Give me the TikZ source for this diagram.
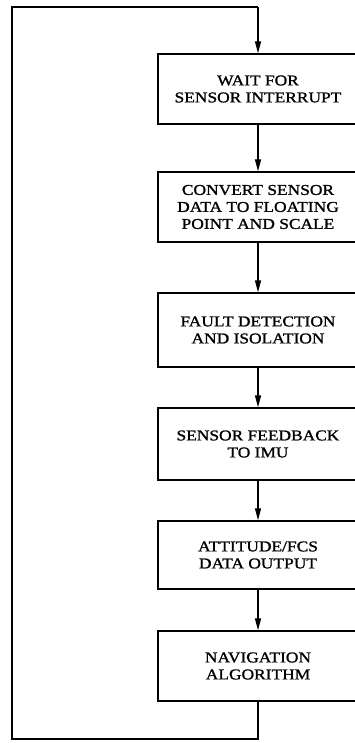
\documentclass[tikz,border=0pt]{standalone}
\usepackage{fontspec}
\setmainfont[FakeStretch=1.16,FakeBold=1.2]{Liberation Serif}
\usetikzlibrary{arrows.meta}
\begin{document}
\begin{tikzpicture}[x=1pt,y=-1pt,
  stepbox/.style={draw,line width=1.4pt,minimum width=200pt,align=center,inner sep=0pt,font=\fontsize{15}{17}\selectfont},
  flow/.style={line width=1.4pt,-{Triangle[length=12pt,width=6pt]}},
  loopline/.style={line width=1.4pt}]
\useasboundingbox (0,0) rectangle (355,743);
\clip (0,0) rectangle (355,743);
\node[stepbox,minimum height=70pt] (b1) at (258,89) {WAIT FOR\\SENSOR INTERRUPT};
\node[stepbox,minimum height=70pt] (b2) at (258,207) {CONVERT SENSOR\\DATA TO FLOATING\\POINT AND SCALE};
\node[stepbox,minimum height=74pt] (b3) at (258,330) {FAULT DETECTION\\AND ISOLATION};
\node[stepbox,minimum height=72pt] (b4) at (258,444) {SENSOR FEEDBACK\\TO IMU};
\node[stepbox,minimum height=68pt] (b5) at (258,555) {ATTITUDE/FCS\\DATA OUTPUT};
\node[stepbox,minimum height=70pt] (b6) at (258,666) {NAVIGATION\\ALGORITHM};
\coordinate (c1) at (258,739);
\coordinate (c2) at (12,739);
\coordinate (c3) at (12,7);
\coordinate (c4) at (258,7);
\draw[flow] (b1) -- (b2);
\draw[flow] (b2) -- (b3);
\draw[flow] (b3) -- (b4);
\draw[flow] (b4) -- (b5);
\draw[flow] (b5) -- (b6);
\draw[loopline] (b6.south) -- (c1) -- (c2) -- (c3) -- (c4);
\draw[flow] (c4) -- (b1.north);
\end{tikzpicture}
\end{document}
